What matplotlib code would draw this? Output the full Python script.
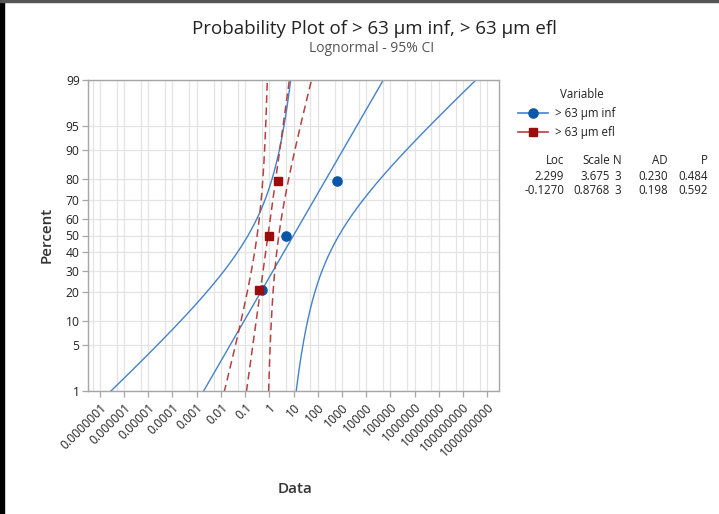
import numpy as np
import matplotlib
matplotlib.use("Agg")
import matplotlib.pyplot as plt
from matplotlib.lines import Line2D
from matplotlib.patches import Rectangle
from statistics import NormalDist

plt.rcParams["font.family"] = ["Open Sans", "DejaVu Sans"]

# ---- data -------------------------------------------------------------
series_names = ["> 63 µm inf", "> 63 µm efl"]
inf_values = [0.48, 4.9, 620.0]
efl_values = [0.37, 1.0, 2.2]

# fitted lognormal parameters and goodness-of-fit summary
loc_values = [2.299, -0.1270]
scale_values = [3.675, 0.8768]
n_values = [3, 3]
ad_values = [0.230, 0.198]
p_values = [0.484, 0.592]
loc_labels = ["2.299", "-0.1270"]
scale_labels = ["3.675", "0.8768"]
ad_labels = ["0.230", "0.198"]
p_labels = ["0.484", "0.592"]

percent_ticks = [1, 5, 10, 20, 30, 40, 50, 60, 70, 80, 90, 95, 99]
data_ticks = [1e-7, 1e-6, 1e-5, 1e-4, 1e-3, 1e-2, 1e-1, 1, 10, 100, 1e3,
              1e4, 1e5, 1e6, 1e7, 1e8, 1e9]
data_tick_labels = ["0.0000001", "0.000001", "0.00001", "0.0001", "0.001",
                    "0.01", "0.1", "1", "10", "100", "1000", "10000",
                    "100000", "1000000", "10000000", "100000000",
                    "1000000000"]

# ---- styling ----------------------------------------------------------
blue_marker = "#0a57a8"
blue_line = "#4482c9"
red_marker = "#9b0d0d"
red_line = "#b5403f"
grid_col = "#e4e4e4"
frame_col = "#a6a6a6"
text_col = "#333333"

nd = NormalDist()
zq = nd.inv_cdf

W, H = 719, 514
fig = plt.figure(figsize=(W / 100, H / 100), dpi=100)
ax = fig.add_axes([88 / W, 1 - 391 / H, (499 - 88) / W, (391 - 80) / H])

ax.set_xscale("log")
ax.set_xlim(10 ** -7.49, 10 ** 9.49)
ax.set_ylim(zq(0.01), zq(0.99))

# grid: decades and half-decades, percent ticks
for k in range(-8, 10):
    for m in (1, 5):
        v = m * 10.0 ** k
        ax.axvline(v, color=grid_col, lw=0.9, zorder=0)
for pct in percent_ticks:
    ax.axhline(zq(pct / 100), color=grid_col, lw=0.9, zorder=0)

# fitted lines with 95% confidence bands
var_loc_factor = 0.36
var_scale_factor = 0.21
z_crit = 1.959964
zz = np.linspace(zq(0.002), zq(0.998), 400)

def draw_fit(loc, scale, color, ls, lw):
    centre = loc + scale * zz
    half = z_crit * scale * np.sqrt(var_loc_factor + var_scale_factor * zz ** 2)
    for curve in (centre - half, centre, centre + half):
        ax.plot(np.exp(curve), zz, color=color, ls=ls, lw=lw, zorder=2)

draw_fit(loc_values[0], scale_values[0], blue_line, "-", 1.0)
draw_fit(loc_values[1], scale_values[1], red_line, (0, (5, 3)), 1.1)

# data points at median-rank plotting positions
def plot_points(values, color, marker, ms):
    v = np.sort(np.asarray(values))
    n = len(v)
    ranks = (np.arange(1, n + 1) - 0.3) / (n + 0.4)
    ax.plot(v, [zq(r) for r in ranks], ls="none", marker=marker, ms=ms,
            color=color, mec=color, zorder=4)

plot_points(inf_values, blue_marker, "o", 6.6)
plot_points(efl_values, red_marker, "s", 5.2)

# axes formatting
ax.set_yticks([zq(p / 100) for p in percent_ticks])
ax.set_yticklabels([str(p) for p in percent_ticks])
ax.set_xticks(data_ticks)
ax.set_xticklabels(data_tick_labels, rotation=45, ha="right", va="top",
                   rotation_mode="anchor")
ax.minorticks_off()
ax.tick_params(axis="both", direction="out", length=4, width=0.9,
               color=frame_col, labelsize=8.7, labelcolor="#222222", pad=2)
ax.tick_params(axis="x", pad=3)
for s in ax.spines.values():
    s.set_color(frame_col)
    s.set_linewidth(1.0)

fig.text(47 / W, 1 - 235 / H, "Percent", rotation=90, ha="center",
         va="center", fontsize=11, color=text_col, fontweight="semibold")
fig.text(295 / W, 1 - 489 / H, "Data", ha="center", va="center",
         fontsize=11, color=text_col, fontweight="semibold")

# titles
fig.text(374 / W, 1 - 29 / H, "Probability Plot of > 63 µm inf, > 63 µm efl",
         ha="center", va="center", fontsize=13.5, color="#222222")
fig.text(372 / W, 1 - 48 / H, "Lognormal - 95% CI", ha="center",
         va="center", fontsize=10, color="#555555")

# legend
fig.text(560 / W, 1 - 95 / H, "Variable", ha="left", va="center",
         fontsize=8.3, color="#222222")
handles = [
    Line2D([], [], color=blue_line, lw=1.2, marker="o", ms=6.6,
           mfc=blue_marker, mec=blue_marker),
    Line2D([], [], color=red_line, lw=1.2, marker="s", ms=5.2,
           mfc=red_marker, mec=red_marker),
]
fig.legend(handles, series_names, loc="upper left",
           bbox_to_anchor=(512 / W, 1 - 101 / H), frameon=False,
           fontsize=8.3, handlelength=2.6, handletextpad=0.6,
           labelspacing=0.55, borderpad=0, labelcolor="#222222")

# statistics table
col_right = [564, 610, 621.5, 668, 708]
headers = ["Loc", "Scale", "N", "AD", "P"]
for x, h in zip(col_right, headers):
    fig.text(x / W, 1 - 160 / H, h, ha="right", va="center", fontsize=8.3,
             color="#222222")
for i, ry in enumerate([176, 191]):
    row = [loc_labels[i], scale_labels[i], str(n_values[i]), ad_labels[i],
           p_labels[i]]
    for x, t in zip(col_right, row):
        fig.text(x / W, 1 - ry / H, t, ha="right", va="center",
                 fontsize=8.3, color="#222222")

# page border
fig.patches.append(Rectangle((0, 0), 4 / W, 1, transform=fig.transFigure,
                             color="black", zorder=5))
fig.patches.append(Rectangle((0, 1 - 2 / H), 1, 2 / H,
                             transform=fig.transFigure, color="#555555",
                             zorder=5))

fig.savefig("out.png", dpi=100)
